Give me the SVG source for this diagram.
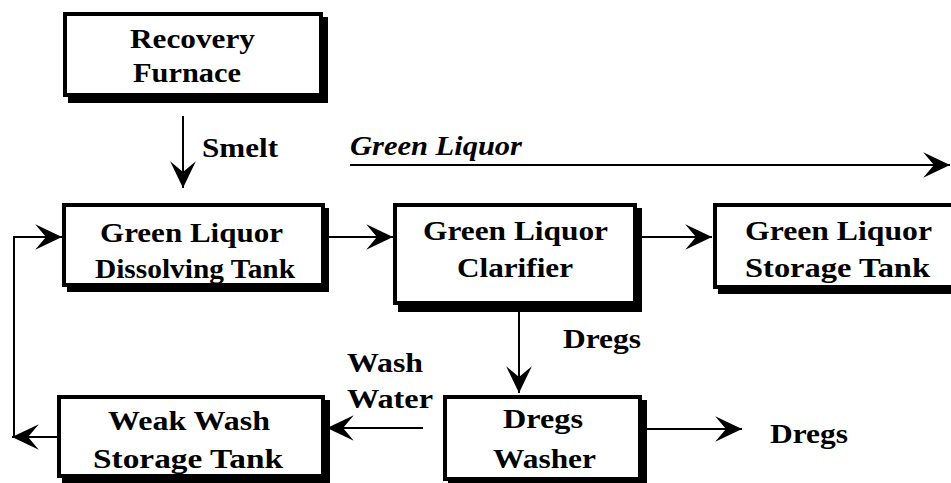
<svg xmlns="http://www.w3.org/2000/svg" width="951" height="483" viewBox="0 0 951 483">
<style>
.t{font-family:'Liberation Serif',Tinos,'Times New Roman',serif;font-weight:700;font-size:28px;fill:#000}
.it{font-style:italic}
.box{fill:#fff;stroke:#000;stroke-width:4}
.sh{fill:#000}
.ln{fill:none;stroke:#000;stroke-width:2}
</style>
<defs>
<marker id="ah" markerUnits="userSpaceOnUse" markerWidth="30" markerHeight="30" viewBox="-26 -13 28 26" refX="0" refY="0" orient="auto" overflow="visible">
<path d="M0,0 L-25,-12 L-15,0 L-25,12 Z" fill="#000"/>
</marker>
</defs>
<rect x="0" y="0" width="951" height="483" fill="#fff"/>
<g id="connectors">
<line class="ln" x1="183" y1="116" x2="183" y2="188" marker-end="url(#ah)"/>
<line class="ln" x1="350" y1="165" x2="950" y2="165" marker-end="url(#ah)"/>
<line class="ln" x1="329" y1="237" x2="393" y2="237" marker-end="url(#ah)"/>
<line class="ln" x1="642" y1="237" x2="712" y2="237" marker-end="url(#ah)"/>
<line class="ln" x1="519" y1="312" x2="519" y2="393" marker-end="url(#ah)"/>
<line class="ln" x1="423" y1="428" x2="327" y2="428" marker-end="url(#ah)"/>
<line class="ln" x1="645" y1="429" x2="742" y2="429" marker-end="url(#ah)"/>
<line class="ln" x1="57" y1="437" x2="12" y2="437" marker-end="url(#ah)"/>
<path class="ln" d="M14,437 V237 H62" marker-end="url(#ah)"/>
</g>
<g id="recovery-furnace" class="t">
<rect class="sh" x="68" y="17" width="260" height="86"/>
<rect class="box" x="65" y="14" width="256" height="81"/>
<text x="130" y="48" textLength="125" lengthAdjust="spacingAndGlyphs">Recovery</text>
<text x="133" y="82" textLength="108" lengthAdjust="spacingAndGlyphs">Furnace</text>
</g>
<g id="dissolving-tank" class="t">
<rect class="sh" x="67" y="208" width="262" height="84"/>
<rect class="box" x="64" y="205" width="259" height="80"/>
<text x="100" y="242" textLength="183" lengthAdjust="spacingAndGlyphs">Green Liquor</text>
<text x="95" y="278" textLength="200" lengthAdjust="spacingAndGlyphs">Dissolving Tank</text>
</g>
<g id="clarifier" class="t">
<rect class="sh" x="398" y="208" width="244" height="104"/>
<rect class="box" x="395" y="205" width="240" height="98"/>
<text x="423" y="240" textLength="185" lengthAdjust="spacingAndGlyphs">Green Liquor</text>
<text x="457" y="277" textLength="116" lengthAdjust="spacingAndGlyphs">Clarifier</text>
</g>
<g id="storage-tank" class="t">
<rect class="sh" x="718" y="208" width="250" height="86"/>
<rect class="box" x="715" y="205" width="250" height="82"/>
<text x="745" y="240" textLength="187" lengthAdjust="spacingAndGlyphs">Green Liquor</text>
<text x="745" y="277" textLength="185" lengthAdjust="spacingAndGlyphs">Storage Tank</text>
</g>
<g id="weak-wash-tank" class="t">
<rect class="sh" x="62" y="400" width="268" height="83"/>
<rect class="box" x="59" y="397" width="264" height="79"/>
<text x="108" y="430" textLength="162" lengthAdjust="spacingAndGlyphs">Weak Wash</text>
<text x="93" y="468" textLength="190" lengthAdjust="spacingAndGlyphs">Storage Tank</text>
</g>
<g id="dregs-washer" class="t">
<rect class="sh" x="448" y="400" width="199" height="85"/>
<rect class="box" x="445" y="397" width="195" height="82"/>
<text x="503" y="428" textLength="80" lengthAdjust="spacingAndGlyphs">Dregs</text>
<text x="493" y="468" textLength="103" lengthAdjust="spacingAndGlyphs">Washer</text>
</g>
<g id="labels" class="t">
<text x="202" y="157" textLength="76" lengthAdjust="spacingAndGlyphs">Smelt</text>
<text class="it" x="350" y="155" textLength="172" lengthAdjust="spacingAndGlyphs">Green Liquor</text>
<text x="563" y="348" textLength="78" lengthAdjust="spacingAndGlyphs">Dregs</text>
<text x="347" y="372" textLength="76" lengthAdjust="spacingAndGlyphs">Wash</text>
<text x="347" y="408" textLength="86" lengthAdjust="spacingAndGlyphs">Water</text>
<text x="770" y="443" textLength="78" lengthAdjust="spacingAndGlyphs">Dregs</text>
</g>
</svg>
